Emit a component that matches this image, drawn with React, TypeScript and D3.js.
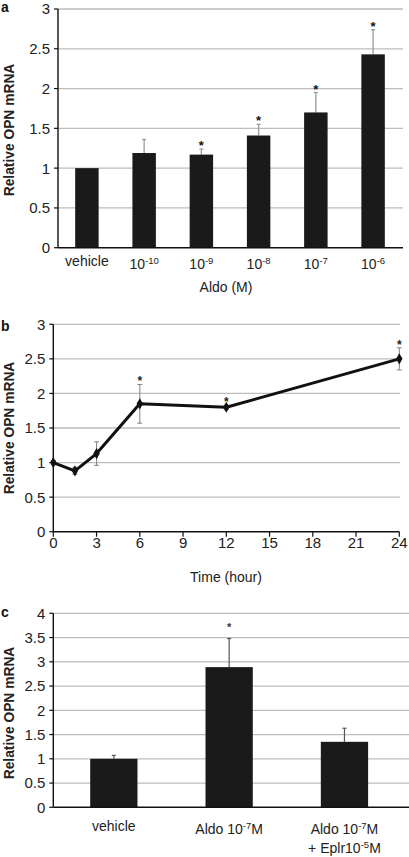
import React, { useEffect } from "react";
import * as d3 from "d3";

// ---------- DATA ----------
const aldoCategories = ["vehicle", "10^-10", "10^-9", "10^-8", "10^-7", "10^-6"];
const aldoMeans = [1.0, 1.19, 1.17, 1.41, 1.7, 2.43];
const aldoErr = [0, 0.17, 0.07, 0.14, 0.25, 0.31];
const aldoSig = [false, false, true, true, true, true];

const timeHours = [0, 1.5, 3, 6, 12, 24];
const timeMeans = [1.0, 0.88, 1.13, 1.85, 1.8, 2.5];
const timeErr = [0.03, 0.05, 0.17, 0.28, 0.03, 0.16];
const timeSig = [false, false, false, true, true, true];
const timeTicks = [0, 3, 6, 9, 12, 15, 18, 21, 24];

const eplrCategories = ["vehicle", "Aldo 10^-7M", "Aldo 10^-7M\n+ Eplr10^-5M"];
const eplrMeans = [1.0, 2.89, 1.35];
const eplrErr = [0.07, 0.59, 0.28];
const eplrSig = [false, true, false];

const yTicksAB = [0, 0.5, 1, 1.5, 2, 2.5, 3];
const yTicksC = [0, 0.5, 1, 1.5, 2, 2.5, 3, 3.5, 4];

const FONT = "'Liberation Sans', Arial, Helvetica, sans-serif";
const GRID = "#bdbdbd";
const BAR = "#1a1a1a";
const LABEL = 14;
const NUM = 15;

// label with optional superscript, e.g. "10^-7M"
function SupText({ text, x, y, size = LABEL }: { text: string; x: number; y: number; size?: number }) {
  const m = text.match(/^(.*?)\^(-?\d+)(.*)$/);
  if (!m) {
    return (
      <text x={x} y={y} textAnchor="middle" fontSize={size} fontFamily={FONT} fill="#222">
        {text}
      </text>
    );
  }
  return (
    <text x={x} y={y} textAnchor="middle" fontSize={size} fontFamily={FONT} fill="#222">
      <tspan>{m[1]}</tspan>
      <tspan fontSize={size * 0.68} dy={-5.5}>
        {m[2]}
      </tspan>
      <tspan dy={5.5}>{m[3]}</tspan>
    </text>
  );
}

function YAxis({ scale, ticks, x, x2 }: { scale: d3.ScaleLinear<number, number>; ticks: number[]; x: number; x2: number }) {
  return (
    <g>
      {ticks
        .filter((t) => t > 0)
        .map((t) => (
          <line key={"g" + t} x1={x} x2={x2} y1={scale(t)} y2={scale(t)} stroke={GRID} strokeWidth={1.3} />
        ))}
      {ticks.map((t) => (
        <g key={"t" + t}>
          <line x1={x - 4} x2={x} y1={scale(t)} y2={scale(t)} stroke="#111" strokeWidth={1.2} />
          <text x={x - 8} y={scale(t)} dy="0.36em" textAnchor="end" fontSize={NUM} fontFamily={FONT} fill="#222">
            {String(t)}
          </text>
        </g>
      ))}
      <line x1={x} x2={x} y1={scale(ticks[0])} y2={scale(ticks[ticks.length - 1])} stroke="#111" strokeWidth={1.4} />
    </g>
  );
}

function YTitle({ cy }: { cy: number }) {
  return (
    <text
      transform={`translate(9,${cy}) rotate(-90)`}
      textAnchor="middle"
      dominantBaseline="central"
      fontSize={13.8}
      fontWeight="bold"
      fontFamily={FONT}
      fill="#222"
    >
      Relative OPN mRNA
    </text>
  );
}

function PanelLetter({ t, y }: { t: string; y: number }) {
  return (
    <text x={1} y={y} fontSize={14} fontWeight="bold" fontFamily={FONT} fill="#111">
      {t}
    </text>
  );
}

function PanelA() {
  const left = 58;
  const right = 402;
  const y = d3.scaleLinear().domain([0, 3]).range([247.7, 9]);
  const x = d3.scaleBand<string>().domain(aldoCategories).range([left, right]).paddingInner(0.59).paddingOuter(0.3);
  const bw = x.bandwidth();
  return (
    <g>
      <PanelLetter t="a" y={12} />
      <YAxis scale={y} ticks={yTicksAB} x={left} x2={403} />
      {aldoCategories.map((c, i) => {
        const cx = (x(c) as number) + bw / 2;
        const top = y(aldoMeans[i] + aldoErr[i]);
        return (
          <g key={c}>
            {aldoErr[i] > 0 && (
              <g stroke="#9a9a9a" strokeWidth={1.3}>
                <line x1={cx} x2={cx} y1={y(aldoMeans[i])} y2={top} />
                <line x1={cx - 2} x2={cx + 2} y1={top} y2={top} />
              </g>
            )}
            <rect x={x(c)} y={y(aldoMeans[i])} width={bw} height={y(0) - y(aldoMeans[i])} fill={BAR} />
            {aldoSig[i] && (
              <text x={cx} y={top + 1} textAnchor="middle" fontSize={13} fontWeight="bold" fontFamily={FONT} fill="#111">
                *
              </text>
            )}
            <SupText text={c} x={cx} y={c === "vehicle" ? 266 : 269} />
          </g>
        );
      })}
      <line x1={left} x2={403} y1={y(0)} y2={y(0)} stroke="#111" strokeWidth={1.5} />
      <text x={226} y={292} textAnchor="middle" fontSize={LABEL} fontFamily={FONT} fill="#222">
        Aldo (M)
      </text>
      <YTitle cy={130} />
    </g>
  );
}

function PanelB() {
  const x = d3.scaleLinear().domain([0, 24]).range([53.3, 399.3]);
  const y = d3.scaleLinear().domain([0, 3]).range([531.7, 324.3]);
  const line = d3
    .line<number>()
    .x((_, i) => x(timeHours[i]))
    .y((d) => y(d));
  const diamond = d3.symbol().type(d3.symbolDiamond).size(36)();
  return (
    <g>
      <PanelLetter t="b" y={331} />
      <YAxis scale={y} ticks={yTicksAB} x={x(0)} x2={400} />
      <line x1={x(0)} x2={x(24)} y1={y(0)} y2={y(0)} stroke="#111" strokeWidth={1.4} />
      {timeTicks.map((t) => (
        <g key={t}>
          <line x1={x(t)} x2={x(t)} y1={y(0)} y2={y(0) + 5} stroke="#111" strokeWidth={1.2} />
          <text x={x(t)} y={548} textAnchor="middle" fontSize={NUM} fontFamily={FONT} fill="#222">
            {t}
          </text>
        </g>
      ))}
      {timeHours.map((h, i) => {
        const cx = x(h);
        const t = y(timeMeans[i] + timeErr[i]);
        const b = y(timeMeans[i] - timeErr[i]);
        return (
          <g key={"e" + i} stroke="#808080" strokeWidth={1}>
            <line x1={cx} x2={cx} y1={t} y2={b} />
            <line x1={cx - 2.5} x2={cx + 2.5} y1={t} y2={t} />
            <line x1={cx - 2.5} x2={cx + 2.5} y1={b} y2={b} />
          </g>
        );
      })}
      <path d={line(timeMeans) || ""} fill="none" stroke="#111" strokeWidth={3} strokeLinejoin="round" />
      {timeHours.map((h, i) => (
        <path key={"m" + i} d={diamond || ""} transform={`translate(${x(h)},${y(timeMeans[i])})`} fill="#111" />
      ))}
      {timeHours.map((h, i) =>
        timeSig[i] ? (
          <text
            key={"s" + i}
            x={x(h)}
            y={y(timeMeans[i] + timeErr[i]) + 1}
            textAnchor="middle"
            fontSize={12}
            fontWeight="bold"
            fontFamily={FONT}
            fill="#222"
          >
            *
          </text>
        ) : null
      )}
      <text x={226} y={582} textAnchor="middle" fontSize={LABEL} fontFamily={FONT} fill="#222">
        Time (hour)
      </text>
      <YTitle cy={428} />
    </g>
  );
}

function PanelC() {
  const left = 53.3;
  const y = d3.scaleLinear().domain([0, 4]).range([807.3, 613.3]);
  const x = d3.scaleBand<string>().domain(eplrCategories).range([left, 405]).paddingInner(0.59).paddingOuter(0.32);
  const bw = x.bandwidth();
  return (
    <g>
      <PanelLetter t="c" y={617} />
      <YAxis scale={y} ticks={yTicksC} x={left} x2={409} />
      {eplrCategories.map((c, i) => {
        const cx = (x(c) as number) + bw / 2;
        const top = y(eplrMeans[i] + eplrErr[i]);
        const lines = c.split("\n");
        return (
          <g key={c}>
            <g stroke="#555" strokeWidth={1.2}>
              <line x1={cx} x2={cx} y1={y(eplrMeans[i])} y2={top} />
              <line x1={cx - 2} x2={cx + 2} y1={top} y2={top} />
            </g>
            <rect x={x(c)} y={y(eplrMeans[i])} width={bw} height={y(0) - y(eplrMeans[i])} fill={BAR} />
            {eplrSig[i] && (
              <text x={cx} y={top - 8} textAnchor="middle" fontSize={11} fontWeight="bold" fontFamily={FONT} fill="#333">
                *
              </text>
            )}
            {lines.map((l, k) => (
              <SupText key={k} text={l} x={cx} y={(l.includes("^") ? 834 : 831) + k * 19} />
            ))}
          </g>
        );
      })}
      <line x1={left} x2={409} y1={y(0)} y2={y(0)} stroke="#111" strokeWidth={1.5} />
      <YTitle cy={713} />
    </g>
  );
}

export default function App() {
  useEffect(() => {
    document.body.style.margin = "0";
  }, []);
  return (
    <svg width={409} height={857} style={{ display: "block", position: "absolute", left: 0, top: 0, background: "#fff" }}>
      <rect width={409} height={857} fill="#fff" />
      <PanelA />
      <PanelB />
      <PanelC />
    </svg>
  );
}
